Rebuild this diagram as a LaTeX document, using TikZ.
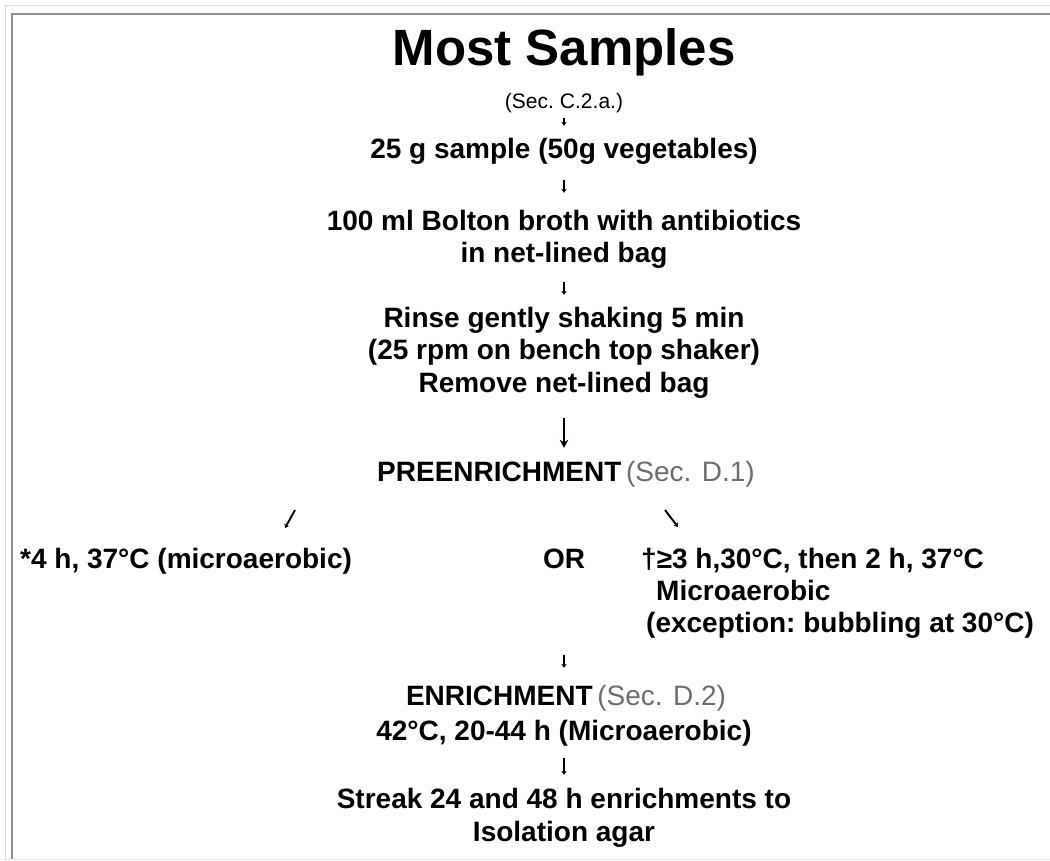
\documentclass[tikz,border=0pt]{standalone}
\usepackage{fontspec}
\setmainfont{Liberation Sans}
\usetikzlibrary{arrows.meta}
\definecolor{secgrey}{HTML}{6E6E6E}
\definecolor{frameout}{HTML}{DADADA}
\definecolor{framein}{HTML}{8F8F8F}
\definecolor{framebot}{HTML}{EEEEEE}
\newcommand{\secgreytext}[1]{{\mdseries\color{secgrey}#1}}
\begin{document}
\begin{tikzpicture}[x=1pt,y=-1pt,
  body/.style={font=\fontsize{28}{32}\selectfont\bfseries, inner sep=0pt, text height=20pt, text depth=6pt, anchor=base},
  bodyw/.style={body, anchor=base west},
  titlestyle/.style={font=\fontsize{51}{60}\selectfont\bfseries, inner sep=0pt, anchor=base},
  secstyle/.style={font=\fontsize{21}{24}\selectfont, inner sep=0pt, text height=14pt, text depth=4pt, anchor=base},
  tickarrow/.style={line width=1.9pt, -{Stealth[length=4pt,width=5.5pt]}},
  bigarrow/.style={line width=1.8pt, -{Stealth[length=8pt,width=8.5pt]}}
]
\useasboundingbox (0,0) rectangle (1050,860);
\fill[white] (0,0) rectangle (1050,860);
% frame
\draw[frameout, line width=1.5pt] (5.5,860) -- (5.5,5.5) -- (1050,5.5);
\draw[framein, line width=2pt] (12,860) -- (12,13.5) -- (1050,13.5);
\draw[framebot, line width=1pt] (0,859.5) -- (1050,859.5);

% nodes
\node[titlestyle] (title) at (564,65) {Most Samples};
\node[secstyle] (sec) at (564,108) {(Sec.\hspace{6pt}C.2.a.)};
\node[body] (s1) at (564,158) {25 g sample (50g vegetables)};
\node[body] (s2a) at (564,230) {100 ml Bolton broth with antibiotics};
\node[body] (s2b) at (564,262) {in net-lined bag};
\node[body] (s3a) at (564,327) {Rinse gently shaking 5 min};
\node[body] (s3b) at (564,359) {(25 rpm on bench top shaker)};
\node[body] (s3c) at (564,392) {Remove net-lined bag};
\node[body] (pre) at (566,481) {PREENRICHMENT\,\secgreytext{(Sec. D.1)}};
\node[bodyw] (left) at (20,568) {*4 h, 37°C (microaerobic)};
\node[body] (or) at (564,568) {OR};
\node[bodyw] (r1) at (641,568) {†≥3 h,30°C, then 2 h, 37°C};
\node[bodyw] (r2) at (656,600) {Microaerobic};
\node[bodyw] (r3) at (646,632) {\frenchspacing(exception: bubbling at 30°C)};
\node[body] (enr) at (566,705) {ENRICHMENT\,\secgreytext{(Sec. D.2)}};
\node[body] (e2) at (564,740) {42°C, 20-44 h (Microaerobic)};
\node[body] (st1) at (564,808) {Streak 24 and 48 h enrichments to};
\node[body] (st2) at (564,841) {Isolation agar};

% connectors
\draw[tickarrow, shorten <=6pt, shorten >=12pt] (sec.south) -- (s1.north);
\draw[tickarrow, shorten <=16pt, shorten >=17pt] (s1.south) -- (s2a.north);
\draw[tickarrow, shorten <=14pt, shorten >=12pt] (s2b.south) -- (s3a.north);
\draw[bigarrow, shorten <=20pt, shorten >=13pt] (s3c.south) -- (s3c.south |- pre.north);
\coordinate (dl1) at (295,510);
\coordinate (dl2) at (285,528);
\coordinate (dr1) at (665,510);
\coordinate (dr2) at (678,527);
\draw[tickarrow] (dl1) -- (dl2);
\draw[tickarrow] (dr1) -- (dr2);
\draw[tickarrow, shorten <=81pt, shorten >=17pt] (or.south) -- (or.south |- enr.north);
\draw[tickarrow, shorten <=12pt, shorten >=13pt] (e2.south) -- (st1.north);
\end{tikzpicture}
\end{document}
